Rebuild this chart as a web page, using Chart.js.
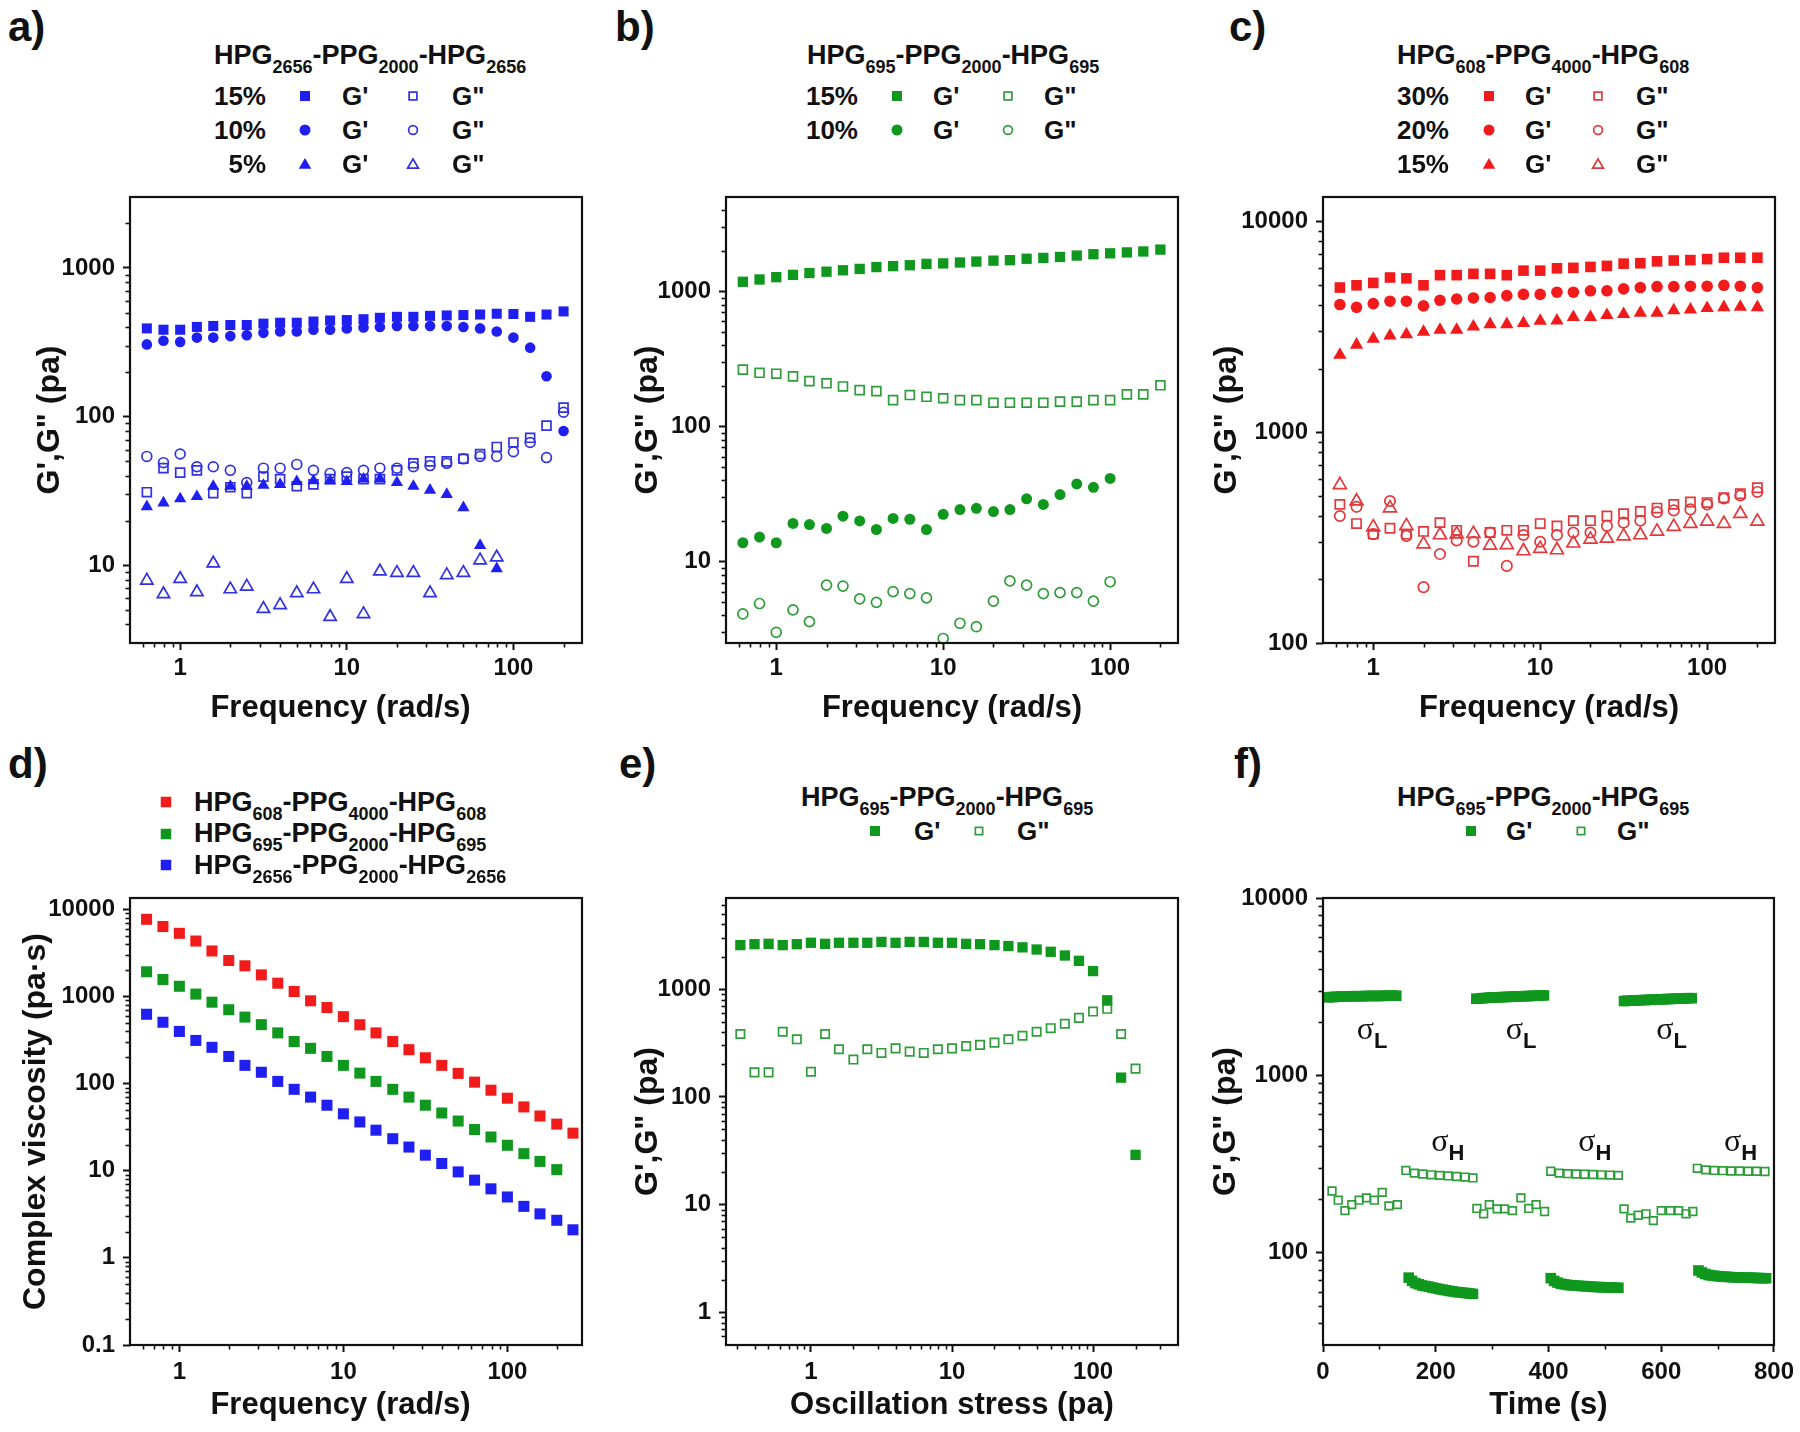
<!DOCTYPE html>
<html><head><meta charset="utf-8">
<script src="https://cdn.jsdelivr.net/npm/chart.js@4.4.1/dist/chart.umd.min.js"></script>
<style>
html,body{margin:0;padding:0;background:#fff;width:1800px;height:1432px;overflow:hidden;}
body{position:relative;font-family:'Liberation Sans',Arial,Helvetica,sans-serif;font-weight:bold;color:#111;}
.t{position:absolute;white-space:nowrap;line-height:1;}
.sb{font-size:18px;position:relative;top:9px;}
canvas{position:absolute;}
</style></head><body>
<script>
const FF = "'Liberation Sans', Arial, Helvetica, sans-serif";
const BLUE='#1f1ff2', BLUE_O='#3131e4', GREEN='#10981e', GREEN_O='#2f9d3b', RED='#f21b1b', RED_O='#e3393d';

// ---------- data ----------
const freq = [0.631,0.794,1,1.26,1.58,2,2.51,3.16,3.98,5.01,6.31,7.94,10,12.6,15.8,20,25.1,31.6,39.8,50.1,63.1,79.4,100,126,158,200];
const freqD = [0.631,0.794,1,1.26,1.58,2,2.51,3.16,3.98,5.01,6.31,7.94,10,12.6,15.8,20,25.1,31.6,39.8,50.1,63.1,79.4,100,126,158,200,251];
const stress = [0.316,0.398,0.501,0.631,0.794,1,1.26,1.58,2,2.51,3.16,3.98,5.01,6.31,7.94,10,12.6,15.8,20,25.1,31.6,39.8,50.1,63.1,79.4,100,126,158,200];

// panel a : HPG2656-PPG2000-HPG2656
const a15G1 = [392,384,384,401,407,413,413,422,428,428,436,443,446,452,462,469,469,476,479,482,486,492,490,469,486,510];
const a15G2 = [31,45,42,43.5,30.5,33.5,30.5,39.5,38,34,35,38,39.5,38,38,43.5,48.5,50,50,52,56,62.5,67,72,87,115];
const a10G1 = [306,324,318,340,340,348,353,366,374,374,384,384,392,398,401,407,407,407,407,401,392,374,340,291,187,80];
const a10G2 = [54,49,56,46,46,43.5,36,45,45,47.7,43.5,41.5,42,43.5,45,45,46,46.8,48.5,52,54,54,58,67,53,107];
const a5G1 = [24.8,26.3,28,29,34,34,34,34.5,35,36.6,37,37,36.6,38,38,36,34,32,30,24.4,13.6,9.5];
const a5G2 = [7.9,6.4,8.1,6.6,10.3,6.9,7.2,5.1,5.4,6.5,6.9,4.5,8.1,4.7,9.1,8.9,8.9,6.5,8.6,8.9,10.8,11.3];

// panel b : HPG695-PPG2000-HPG695
const b15G1 = [1179,1226,1275,1326,1368,1400,1434,1468,1515,1539,1563,1600,1612,1638,1664,1690,1703,1745,1771,1799,1843,1886,1915,1945,1976,2040];
const b15G2 = [264,250,246,235,217,209,198,186,183,157,171,166,162,157,157,150,150,150,150,153,153,157,157,173,173,202];
const b10G1 = [13.8,15.2,13.8,19.2,18.8,17.6,21.7,20,17.3,20.9,20.6,17.3,22.4,24.3,24.8,23.5,24.3,29.2,26.5,31.4,37.6,35.5,41.3];
const b10G2 = [4.1,4.9,3.0,4.4,3.6,6.7,6.6,5.3,5.0,6.0,5.8,5.4,2.7,3.5,3.3,5.1,7.2,6.7,5.8,5.9,5.9,5.1,7.1];

// panel c : HPG608-PPG4000-HPG608
const c30G1 = [4840,4960,5090,5400,5350,4960,5540,5540,5620,5620,5540,5820,5820,5970,6000,6060,6130,6280,6310,6440,6500,6530,6600,6700,6700,6700];
const c30G2 = [454,368,328,350,328,338,372,342,244,334,342,342,368,359,380,380,400,410,420,436,454,466,463,488,510,544];
const c20G1 = [4020,3900,4060,4170,4170,3960,4210,4270,4320,4340,4430,4490,4490,4600,4600,4670,4670,4770,4840,4890,4890,4910,4910,4960,4910,4840];
const c20G2 = [400,442,328,471,322,184,264,306,302,334,232,325,302,325,334,334,359,372,380,417,425,430,454,484,500,520];
const c15G1 = [2320,2590,2760,2860,2900,2980,3050,3050,3160,3240,3240,3280,3360,3370,3500,3500,3580,3620,3670,3670,3770,3800,3860,3900,3920,3900];
const c15G2 = [562,470,354,436,359,294,325,328,330,290,292,273,280,276,297,310,313,321,325,338,356,368,377,368,410,377];

// panel d : complex viscosity
const dRed = [7690,6350,5310,4330,3330,2590,2250,1770,1420,1140,892,747,587,474,382,304,245,198,162,131,104,84,68,54,42.5,34.3,27];
const dGreen = [1920,1565,1310,1065,860,705,580,475,382,304,254,205,162,132,106,86,70,56.5,46,37.2,29.7,24.4,19.6,15.7,12.8,10.3];
const dBlue = [625,506,397,313,261,205,162,135,106,86,70,56.5,45,36.3,29.2,23.3,18.7,15.1,12.1,9.7,7.8,6.2,5.0,3.9,3.2,2.7,2.1];

// panel e : stress sweep
const eG1 = [2560,2610,2630,2560,2610,2690,2630,2690,2690,2690,2740,2690,2740,2740,2690,2690,2630,2610,2560,2510,2440,2330,2220,2050,1830,1470,787,151,29];
const eG2 = [383,169,169,402,342,171,383,277,222,277,256,282,263,256,277,282,296,304,319,342,369,402,434,477,541,619,656,383,183];

// panel f : step strain (time, G')
const fT1 = [10,16,22,28,34,40,46,52,58,64,70,76,82,88,94,100,106,112,118,124,130];
const fP1 = [2750,2760,2770,2770,2780,2780,2780,2790,2790,2790,2790,2800,2800,2800,2800,2800,2800,2810,2810,2810,2810];
const fT2 = [152,158,164,170,176,182,188,194,200,206,212,218,224,230,236,242,248,254,260,266];
const fP2 = [72,69,67,66,65,64.5,64,63.3,62.7,62.1,61.6,61.1,60.6,60.2,59.8,59.5,59.2,58.9,58.6,58.3];
const fT3 = [272,278,284,290,296,302,308,314,320,326,332,338,344,350,356,362,368,374,380,386,392];
const fP3 = [2700,2710,2720,2730,2740,2745,2750,2755,2760,2765,2770,2775,2780,2785,2790,2795,2800,2805,2810,2815,2820];
const fT4 = [404,410,416,422,428,434,440,446,452,458,464,470,476,482,488,494,500,506,512,518,524];
const fP4 = [71.5,69,67.5,66.5,66,65.5,65.2,65,64.8,64.6,64.4,64.2,64,63.8,63.7,63.6,63.5,63.4,63.3,63.2,63.1];
const fT5 = [534,540,546,552,558,564,570,576,582,588,594,600,606,612,618,624,630,636,642,648,654];
const fP5 = [2620,2630,2635,2640,2645,2650,2655,2660,2665,2670,2675,2680,2685,2690,2695,2700,2705,2710,2715,2720,2720];
const fT6 = [666,672,678,684,690,696,702,708,714,720,726,732,738,744,750,756,762,768,774,780,786];
const fP6 = [79,77,75.5,74.5,74,73.6,73.3,73,72.8,72.6,72.4,72.3,72.2,72.1,72,71.9,71.8,71.7,71.6,71.5,71.4];
// (time, G'')
const gT1 = [16,27,39,51,64,77,91,105,117,132];
const gV1 = [222,197,172,186,197,203,197,218,183,186];
const gT2 = [147,162,177,192,207,222,237,252,266];
const gV2 = [290,280,277,274,272,270,268,266,263];
const gT3 = [273,285,295,309,322,336,351,365,378,393];
const gV3 = [177,165,186,176,176,172,203,177,186,170];
const gT4 = [404,419,434,449,464,479,494,509,524];
const gV4 = [287,280,278,277,276,275,274,273,272];
const gT5 = [534,546,559,573,586,600,616,631,644,656];
const gV5 = [176,156,162,165,151,172,172,172,165,170];
const gT6 = [664,679,694,709,724,739,754,769,784];
const gV6 = [298,292,290,289,288,288,287,287,286];
// sigma annotations
const sigT = [60,192,324,453,591,711.5];
const sigV = [1762,410,1762,410,1762,410];
const sigSub = ['L','H','L','H','L','H'];

// tick labels
const ticksFreq = [1,10,100];
const ticksA_y = [10,100,1000];
const ticksB_y = [10,100,1000];
const ticksC_y = [100,1000,10000];
const ticksD_y = [0.1,1,10,100,1000,10000];
const ticksE_y = [1,10,100,1000];
const ticksF_x = [0,200,400,600,800];
const ticksF_y = [100,1000,10000];

// ---------- helpers ----------
function logMinors(min, max){
  const out=[];
  for(let e=-3;e<=5;e++) for(let m=2;m<=9;m++){ const v=m*Math.pow(10,e); if(v>min*1.0001 && v<max*0.9999) out.push(v); }
  return out;
}
function pts(xs, ys){ return ys.map((v,i)=>({x:xs[i], y:v})); }
function ds(data, shape, color, filled, r){
  return { data, showLine:false, pointStyle:shape, pointRadius:r, pointHoverRadius:r,
    backgroundColor: filled?color:'rgba(0,0,0,0)', borderColor: color,
    borderWidth: filled?0:1.7, pointBorderWidth: filled?0:1.7, clip:false };
}
const framePlugin = {
  id:'frame',
  afterDraw(chart, args, opts){
    const {ctx, chartArea:a} = chart;
    const xs = chart.scales.x, ys = chart.scales.y;
    ctx.save();
    ctx.strokeStyle='#111'; ctx.lineWidth=1.6;
    (opts.xMinor||[]).forEach(v=>{ const p=Math.round(xs.getPixelForValue(v))+0.5; ctx.beginPath(); ctx.moveTo(p,a.bottom); ctx.lineTo(p,a.bottom+4.5); ctx.stroke(); });
    (opts.yMinor||[]).forEach(v=>{ const p=Math.round(ys.getPixelForValue(v))+0.5; ctx.beginPath(); ctx.moveTo(a.left,p); ctx.lineTo(a.left-4.5,p); ctx.stroke(); });
    ctx.lineWidth=2.2;
    ctx.strokeRect(a.left, a.top, a.right-a.left, a.bottom-a.top);
    ctx.restore();
  }
};
const sigmaPlugin = {
  id:'sigma',
  afterDatasetsDraw(chart, args, opts){
    if(!opts.t) return;
    const ctx=chart.ctx, xs=chart.scales.x, ys=chart.scales.y;
    ctx.save(); ctx.fillStyle='#111'; ctx.textAlign='left'; ctx.textBaseline='alphabetic';
    opts.t.forEach((t,i)=>{
      const x=xs.getPixelForValue(t), y=ys.getPixelForValue(opts.v[i]);
      ctx.font="32px 'Liberation Serif', 'DejaVu Serif', serif";
      ctx.fillText('σ', x, y+7);
      const w=ctx.measureText('σ').width;
      ctx.font="bold 22px "+FF;
      ctx.fillText(opts.sub[i], x+w, y+16);
    });
    ctx.restore();
  }
};
function axis(o){
  return {
    type:o.type, min:o.min, max:o.max, position:o.isX?'bottom':'left',
    afterBuildTicks: s=>{ s.ticks = o.majors.map(v=>({value:v})); },
    afterFit: s=>{ if(o.isX) s.height=o.size; else s.width=o.size; },
    ticks:{ autoSkip:false, maxRotation:0, minRotation:0, padding:o.pad, color:'#111',
      font:{family:FF, size:24, weight:'bold'}, callback:v=>String(v) },
    grid:{ display:true, drawOnChartArea:false, drawTicks:true, tickLength:7, tickWidth:2, tickColor:'#111' },
    border:{ display:false },
    title:{ display:true, text:o.title, color:'#111', font:{family:FF, size:o.isX?31:32, weight:'bold'}, padding:{top:4,bottom:4} }
  };
}
function makeChart(g, xAx, yAx, datasets, minors, sigma){
  const c=document.createElement('canvas');
  c.width=g.w; c.height=g.h;
  c.style.left=g.left+'px'; c.style.top=g.top+'px'; c.style.width=g.w+'px'; c.style.height=g.h+'px';
  document.body.appendChild(c);
  new Chart(c.getContext('2d'), {
    type:'scatter',
    data:{ datasets },
    options:{
      responsive:false, animation:false, devicePixelRatio:1,
      layout:{ padding:{ left:g.L, top:g.T, right:g.R, bottom:g.B } },
      scales:{ x:xAx, y:yAx },
      plugins:{ legend:{display:false}, tooltip:{enabled:false}, frame:minors, sigma:sigma||{} },
      events:[]
    },
    plugins:[framePlugin, sigmaPlugin]
  });
}
function txt(x, cc, html, fs, align){
  const d=document.createElement('div'); d.className='t'; d.style.fontSize=fs+'px'; d.innerHTML=html;
  d.style.top=(cc-0.4885*fs)+'px';
  if(align==='r') d.style.right=(1800-x)+'px'; else d.style.left=x+'px';
  document.body.appendChild(d);
}
function mk(cx, cy, shape, filled, color, s){
  const NS='http://www.w3.org/2000/svg';
  const svg=document.createElementNS(NS,'svg');
  svg.setAttribute('width',24); svg.setAttribute('height',24);
  svg.style.position='absolute'; svg.style.left=(cx-12)+'px'; svg.style.top=(cy-12)+'px';
  const sw=filled?0:1.7; const q=filled?s:s-sw;
  let el;
  if(shape==='rect'){ el=document.createElementNS(NS,'rect'); el.setAttribute('x',12-q/2); el.setAttribute('y',12-q/2); el.setAttribute('width',q); el.setAttribute('height',q); }
  else if(shape==='circle'){ el=document.createElementNS(NS,'circle'); el.setAttribute('cx',12); el.setAttribute('cy',12); el.setAttribute('r',q/2); }
  else { el=document.createElementNS(NS,'polygon'); const h=q*0.866; el.setAttribute('points',`12,${12-h*0.55} ${12+q/2},${12+h*0.45} ${12-q/2},${12+h*0.45}`); }
  el.setAttribute('fill',filled?color:'none'); el.setAttribute('stroke',filled?'none':color); el.setAttribute('stroke-width',sw);
  svg.appendChild(el); document.body.appendChild(svg);
}
function sub(a,b,c){ return `HPG<span class="sb">${a}</span>-PPG<span class="sb">${b}</span>-HPG<span class="sb">${c}</span>`; }

// ---------- geometry ----------
const TOP = {top:167, h:573, T:30, H:88, B:9, pad:4};
const BOT = {top:868, h:564, T:30, H:83, B:4, pad:6};
function geo(row, left, w, R, L){ return {left, top:row.top, w, h:row.h, L, T:row.T, R, B:row.B, W:130-L, H:row.H, pad:row.pad}; }

// ---------- panel a ----------
(function(){
  const g=geo(TOP,0,622,40,27);
  makeChart(g,
    axis({type:'logarithmic',min:0.5,max:258,majors:ticksFreq,title:'Frequency (rad/s)\u2003',isX:true,size:g.H,pad:g.pad}),
    axis({type:'logarithmic',min:3,max:3000,majors:ticksA_y,title:'G\',G" (pa)',isX:false,size:g.W,pad:8}),
    [ ds(pts(freq,a15G1),'rect',BLUE,true,7.1), ds(pts(freq,a10G1),'circle',BLUE,true,5.3), ds(pts(freq,a5G1),'triangle',BLUE,true,7.1),
      ds(pts(freq,a15G2),'rect',BLUE_O,false,6.3), ds(pts(freq,a10G2),'circle',BLUE_O,false,4.9), ds(pts(freq,a5G2),'triangle',BLUE_O,false,7.1) ],
    {xMinor:logMinors(0.5,258), yMinor:logMinors(3,3000)});
})();
// ---------- panel b ----------
(function(){
  const g=geo(TOP,596,622,40,29);
  makeChart(g,
    axis({type:'logarithmic',min:0.5,max:255,majors:ticksFreq,title:'Frequency (rad/s)',isX:true,size:g.H,pad:g.pad}),
    axis({type:'logarithmic',min:2.5,max:5000,majors:ticksB_y,title:'G\',G" (pa)',isX:false,size:g.W,pad:8}),
    [ ds(pts(freq,b15G1),'rect',GREEN,true,7.3), ds(pts(freq,b10G1),'circle',GREEN,true,5.5),
      ds(pts(freq,b15G2),'rect',GREEN_O,false,6.3), ds(pts(freq,b10G2),'circle',GREEN_O,false,5.0) ],
    {xMinor:logMinors(0.5,255), yMinor:logMinors(2.5,5000)});
})();
// ---------- panel c ----------
(function(){
  const g=geo(TOP,1193,607,25,11);
  makeChart(g,
    axis({type:'logarithmic',min:0.5,max:255,majors:ticksFreq,title:'Frequency (rad/s)',isX:true,size:g.H,pad:g.pad}),
    axis({type:'logarithmic',min:100,max:13000,majors:ticksC_y,title:'G\',G" (pa)',isX:false,size:g.W,pad:8}),
    [ ds(pts(freq,c30G1),'rect',RED,true,7.5), ds(pts(freq,c20G1),'circle',RED,true,5.8), ds(pts(freq,c15G1),'triangle',RED,true,7.7),
      ds(pts(freq,c30G2),'rect',RED_O,false,6.5), ds(pts(freq,c20G2),'circle',RED_O,false,5.2), ds(pts(freq,c15G2),'triangle',RED_O,false,7.5) ],
    {xMinor:logMinors(0.5,255), yMinor:logMinors(100,13000)});
})();
// ---------- panel d ----------
(function(){
  const g=geo(BOT,0,622,40,13);
  makeChart(g,
    axis({type:'logarithmic',min:0.5,max:285,majors:ticksFreq,title:'Frequency (rad/s)\u2003',isX:true,size:g.H,pad:g.pad}),
    axis({type:'logarithmic',min:0.1,max:13500,majors:ticksD_y,title:'Complex viscosity (pa·s)',isX:false,size:g.W,pad:8}),
    [ ds(pts(freqD,dRed),'rect',RED,true,7.8), ds(pts(freqD,dGreen),'rect',GREEN,true,7.8), ds(pts(freqD,dBlue),'rect',BLUE,true,7.8) ],
    {xMinor:logMinors(0.5,285), yMinor:logMinors(0.1,13500)});
})();
// ---------- panel e ----------
(function(){
  const g=geo(BOT,596,622,40,29);
  makeChart(g,
    axis({type:'logarithmic',min:0.25,max:400,majors:ticksFreq,title:'Oscillation stress (pa)',isX:true,size:g.H,pad:g.pad}),
    axis({type:'logarithmic',min:0.5,max:7000,majors:ticksE_y,title:'G\',G" (pa)',isX:false,size:g.W,pad:8}),
    [ ds(pts(stress,eG1),'rect',GREEN,true,7.3), ds(pts(stress,eG2),'rect',GREEN_O,false,5.9) ],
    {xMinor:logMinors(0.25,400), yMinor:logMinors(0.5,7000)});
})();
// ---------- panel f ----------
(function(){
  const g=geo(BOT,1193,607,25,10);
  const tG1=[].concat(fT1,fT2,fT3,fT4,fT5,fT6), vG1=[].concat(fP1,fP2,fP3,fP4,fP5,fP6);
  const tG2=[].concat(gT1,gT2,gT3,gT4,gT5,gT6), vG2=[].concat(gV1,gV2,gV3,gV4,gV5,gV6);
  makeChart(g,
    axis({type:'linear',min:0,max:800,majors:ticksF_x,title:'Time (s)',isX:true,size:g.H,pad:g.pad}),
    axis({type:'logarithmic',min:30,max:10000,majors:ticksF_y,title:'G\',G" (pa)',isX:false,size:g.W,pad:8}),
    [ ds(pts(tG1,vG1),'rect',GREEN,true,7.5), ds(pts(tG2,vG2),'rect',GREEN_O,false,5.4) ],
    {xMinor:[100,300,500,700], yMinor:logMinors(30,10000)},
    {t:sigT, v:sigV, sub:sigSub});
})();

// ---------- panel labels ----------
[['a)',8,41.5],['b)',615,41.5],['c)',1229,41.5],['d)',8,779],['e)',619,779],['f)',1234,779]].forEach(([s,x,base])=>{
  const d=document.createElement('div'); d.className='t'; d.style.fontSize='42px'; d.textContent=s;
  d.style.left=x+'px'; d.style.top=(base-0.8465*42)+'px'; document.body.appendChild(d);
});

// ---------- legends ----------
// a
txt(214,55,sub('2656','2000','2656'),27,'l');
[['15%','rect',96],['10%','circle',130],['5%','triangle',163.7]].forEach(([p,sh,cc])=>{
  txt(266,cc,p,26,'r'); mk(305,cc,sh,true,BLUE,sh==='triangle'?12.5:(sh==='circle'?11:10)); txt(342,cc,"G'",26,'l');
  mk(413,cc,sh,false,BLUE_O,sh==='triangle'?12.5:(sh==='circle'?10.5:9.5)); txt(452,cc,'G"',26,'l');
});
// b
txt(807,55,sub('695','2000','695'),27,'l');
[['15%','rect',96],['10%','circle',130]].forEach(([p,sh,cc])=>{
  txt(858,cc,p,26,'r'); mk(897,cc,sh,true,GREEN,sh==='circle'?11:10); txt(933,cc,"G'",26,'l');
  mk(1007.6,cc,sh,false,GREEN_O,sh==='circle'?10.5:9.5); txt(1044,cc,'G"',26,'l');
});
// c
txt(1397,55,sub('608','4000','608'),27,'l');
[['30%','rect',96],['20%','circle',130],['15%','triangle',163.7]].forEach(([p,sh,cc])=>{
  txt(1449,cc,p,26,'r'); mk(1489,cc,sh,true,RED,sh==='triangle'?12.5:(sh==='circle'?11:10)); txt(1525,cc,"G'",26,'l');
  mk(1598,cc,sh,false,RED_O,sh==='triangle'?12.5:(sh==='circle'?10.5:9.5)); txt(1636,cc,'G"',26,'l');
});
// d
[[sub('608','4000','608'),RED,801.7],[sub('695','2000','695'),GREEN,833.5],[sub('2656','2000','2656'),BLUE,865]].forEach(([h,col,cc])=>{
  mk(165.5,cc,'rect',true,col,10.5); txt(194,cc,h,27,'l');
});
// e
txt(801,797,sub('695','2000','695'),27,'l');
mk(875,830.5,'rect',true,GREEN,10); txt(914,830.5,"G'",26,'l'); mk(979,830.5,'rect',false,GREEN_O,9); txt(1017,830.5,'G"',26,'l');
// f
txt(1397,797,sub('695','2000','695'),27,'l');
mk(1471,830.5,'rect',true,GREEN,10); txt(1506,830.5,"G'",26,'l'); mk(1581,830.5,'rect',false,GREEN_O,9); txt(1617,830.5,'G"',26,'l');
</script>
</body></html>
